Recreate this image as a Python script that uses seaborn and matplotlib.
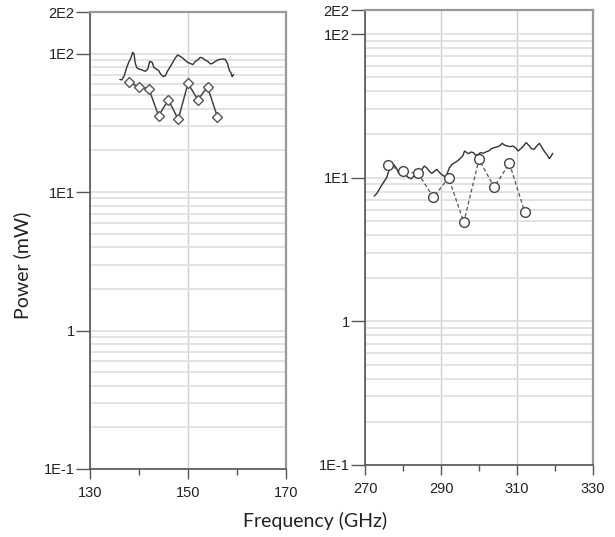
import numpy as np
import pandas as pd
import matplotlib
matplotlib.use("Agg")
import matplotlib.pyplot as plt
import matplotlib.ticker as mticker
import seaborn as sns

# ---------------- data ----------------
# Left band: continuous trace
left_trace_f = [136.1, 136.5, 137.0, 137.5, 137.9, 138.4, 138.7, 139.0, 139.2, 139.5,
                139.9, 140.4, 140.9, 141.3, 141.8, 142.2, 142.7, 143.0, 143.5, 144.0,
                144.5, 145.0, 145.4, 145.8, 146.3, 146.9, 147.4, 147.9, 148.4, 148.9,
                149.5, 149.9, 150.4, 151.0, 151.5, 152.0, 152.5, 153.0, 153.5, 154.0,
                154.6, 155.0, 155.6, 156.1, 156.5, 157.1, 157.6, 158.1, 158.4, 158.8,
                159.0, 159.3]
left_trace_p = [65.0, 64.7, 69.5, 79.7, 86.6, 94.1, 102.2, 99.4, 86.6, 79.7,
                77.6, 76.7, 75.5, 74.6, 77.6, 88.1, 86.6, 79.7, 77.6, 75.5,
                70.6, 68.3, 69.5, 74.6, 79.7, 86.6, 93.1, 97.8, 95.7, 93.1,
                89.1, 86.6, 85.2, 83.4, 88.1, 90.0, 94.1, 93.1, 90.0, 88.1,
                84.3, 85.2, 88.1, 90.0, 91.0, 91.5, 91.0, 84.3, 76.3, 72.2,
                68.3, 70.6]
# Left band: discrete points (diamonds)
left_pts_f = [138, 140, 142, 144, 146, 148, 150, 152, 154, 156]
left_pts_p = [62.0, 57.5, 56.0, 35.5, 46.5, 33.5, 61.0, 46.5, 57.5, 35.0]

# Right band: continuous trace
right_trace_f = [272.4, 273.1, 274.0, 274.8, 275.7, 276.1, 276.8, 277.5, 278.2, 278.8,
                 279.4, 280.1, 280.8, 281.5, 282.2, 282.9, 283.6, 284.3, 285.0, 285.6,
                 286.2, 286.9, 287.6, 288.3, 288.9, 289.5, 290.1, 290.8, 291.3, 291.7,
                 292.2, 292.9, 293.6, 294.3, 295.0, 295.7, 296.2, 296.8, 297.3, 297.9,
                 298.5, 299.2, 299.8, 300.4, 301.1, 301.8, 302.5, 303.3, 304.0, 304.7,
                 305.4, 306.1, 306.8, 307.5, 308.2, 308.9, 309.6, 310.3, 311.0, 311.7,
                 312.4, 313.1, 313.8, 314.5, 315.2, 315.9, 316.6, 317.3, 318.0, 318.5,
                 318.9, 319.4]
right_trace_p = [7.44, 7.77, 8.51, 9.22, 9.99, 10.83, 12.05, 12.38, 11.73, 10.83,
                 10.54, 10.72, 10.38, 9.99, 9.83, 10.27, 10.83, 11.12, 11.43, 12.05,
                 11.73, 11.12, 10.72, 11.12, 11.43, 10.95, 10.54, 10.27, 9.99, 10.83,
                 11.73, 12.38, 12.72, 13.06, 13.56, 14.15, 15.34, 14.94, 14.70, 15.10,
                 14.94, 14.30, 14.54, 14.94, 14.78, 15.10, 15.34, 15.93, 16.19, 16.36,
                 16.62, 17.35, 16.81, 16.62, 16.44, 16.62, 16.19, 15.34, 15.93, 16.62,
                 17.54, 16.81, 15.93, 15.76, 16.62, 17.35, 16.19, 15.10, 14.30, 13.56,
                 14.01, 14.78]
# Right band: discrete points (circles)
right_pts_f = [276, 280, 284, 288, 292, 296, 300, 304, 308, 312]
right_pts_p = [12.2, 11.1, 10.7, 7.3, 10.0, 4.9, 13.4, 8.6, 12.6, 5.8]

y_tick_vals = [0.1, 1, 10, 100]
y_tick_labels = ["1E-1", "1", "1E1", "1E2", "2E2"]
left_xticks = [130, 150, 170]
right_xticks = [270, 290, 310, 330]

# ---------------- style ----------------
sns.set_style("white")
plt.rcParams["font.family"] = ["Liberation Sans", "DejaVu Sans"]

fig = plt.figure(figsize=(6.15, 5.37), dpi=100)
axL = fig.add_axes([90 / 615, 1 - 469 / 537, 196 / 615, 457 / 537])
axR = fig.add_axes([365 / 615, 1 - 465 / 537, 228 / 615, 455 / 537])

trace_col = "#333333"
pts_col = "#444444"

dfLt = pd.DataFrame({"f": left_trace_f, "p": left_trace_p})
dfLp = pd.DataFrame({"f": left_pts_f, "p": left_pts_p})
dfRt = pd.DataFrame({"f": right_trace_f, "p": right_trace_p})
dfRp = pd.DataFrame({"f": right_pts_f, "p": right_pts_p})

sns.lineplot(data=dfLt, x="f", y="p", ax=axL, color=trace_col, lw=1.0,
             estimator=None, sort=False, zorder=4)
sns.lineplot(data=dfLp, x="f", y="p", ax=axL, color=pts_col, lw=1.1,
             estimator=None, sort=False, marker="D", markersize=5.0,
             markerfacecolor="white", markeredgecolor="#555555",
             markeredgewidth=1.0, zorder=5)
sns.lineplot(data=dfRt, x="f", y="p", ax=axR, color=trace_col, lw=1.0,
             estimator=None, sort=False, zorder=4)
sns.lineplot(data=dfRp, x="f", y="p", ax=axR, color="#555555", lw=0.9,
             estimator=None, sort=False, marker="o", markersize=7,
             markerfacecolor="white", markeredgecolor="#444444",
             markeredgewidth=1.0, linestyle=(0, (3, 2)), zorder=5)


def style_axis(ax, xlim, xticks, top):
    ax.set_yscale("log")
    ax.set_ylim(0.1, top)
    ax.set_xlim(*xlim)
    ax.set_xticks(xticks)
    ax.xaxis.set_minor_locator(mticker.MultipleLocator(10))
    ax.set_yticks(y_tick_vals + [top])
    ax.set_yticklabels(y_tick_labels)
    ax.yaxis.set_minor_locator(mticker.LogLocator(base=10, subs=np.arange(2, 10)))
    ax.yaxis.set_minor_formatter(mticker.NullFormatter())
    ax.set_xlabel("")
    ax.set_ylabel("")
    ax.grid(False)
    ax.yaxis.grid(True, which="both", color="#e0e0e0", lw=1.3, zorder=0)
    ax.xaxis.grid(True, which="major", color="#d0d0d0", lw=1.0, zorder=0)
    ax.tick_params(axis="y", which="major", direction="out", length=10,
                   width=1.0, color="#555555", labelsize=10.5, pad=1,
                   left=True, labelcolor="#222222")
    ax.tick_params(axis="y", which="minor", length=0, left=False)
    ax.tick_params(axis="x", which="major", direction="out", length=7,
                   width=1.0, color="#555555", labelsize=10.5, pad=5,
                   bottom=True, labelcolor="#222222")
    ax.tick_params(axis="x", which="minor", direction="out", length=4,
                   width=1.0, color="#555555", bottom=True)
    for s in ["left", "bottom"]:
        ax.spines[s].set_color("#555555")
        ax.spines[s].set_linewidth(1.2)
    for s in ["top", "right"]:
        ax.spines[s].set_color("#999999")
        ax.spines[s].set_linewidth(1.6)
    ax.set_axisbelow(True)


style_axis(axL, (130, 170), left_xticks, 200)
style_axis(axR, (270, 330), right_xticks, 147)

fig.text(315 / 615, 1 - 521 / 537, "Frequency (GHz)", ha="center", va="center",
         fontsize=14, family=["Lato", "DejaVu Sans"], color="#222222")
fig.text(22 / 615, 1 - 265 / 537, "Power (mW)", ha="center", va="center",
         rotation=90, fontsize=14, family=["Lato", "DejaVu Sans"], color="#222222")

fig.savefig("out.png", dpi=100)
